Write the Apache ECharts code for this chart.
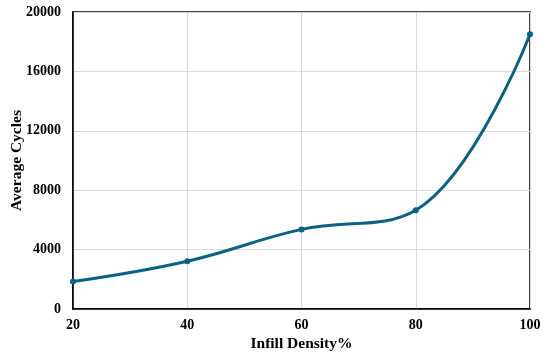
<!DOCTYPE html>
<html><head><meta charset="utf-8">
<script src="https://cdn.jsdelivr.net/npm/echarts@6/dist/echarts.min.js"></script>
<style>html,body{margin:0;padding:0;background:#fff}#c{width:550px;height:358px}</style>
</head><body><div id="c"></div>
<script>
const infillDensity = [20, 40, 60, 80, 100];
const averageCycles = [1850, 3220, 5360, 6650, 18500];
const yTicks = [0, 4000, 8000, 12000, 16000, 20000];

const chart = echarts.init(document.getElementById('c'), null, {renderer: 'canvas'});
const font = {fontFamily: 'Liberation Serif', fontWeight: 'bold', color: '#000', fontSize: 14};
chart.setOption({
  animation: false,
  grid: {left: 73, top: 12, right: 20, bottom: 49, show: true, borderColor: '#000', borderWidth: 1.5,
         containLabel: false, outerBoundsMode: 'none'},
  xAxis: {
    type: 'value', min: 20, max: 100, interval: 20,
    name: 'Infill Density%', nameLocation: 'middle', nameGap: 27, nameMoveOverlap: false,
    nameTextStyle: Object.assign({}, font, {fontSize: 15.5}),
    axisLine: {show: true, lineStyle: {color: '#000', width: 1.5}},
    axisTick: {show: false},
    axisLabel: Object.assign({margin: 9, formatter: v => String(v)}, font),
    splitLine: {show: true, lineStyle: {color: '#d9d9d9', width: 1}}
  },
  yAxis: {
    type: 'value', min: yTicks[0], max: yTicks[yTicks.length-1], interval: 4000,
    name: 'Average Cycles', nameLocation: 'middle', nameGap: 48, nameMoveOverlap: false,
    nameTextStyle: Object.assign({}, font, {fontSize: 15.5}),
    axisLine: {show: true, lineStyle: {color: '#000', width: 1.5}},
    axisTick: {show: false},
    axisLabel: Object.assign({margin: 12, formatter: v => String(v)}, font),
    splitLine: {show: true, lineStyle: {color: '#d9d9d9', width: 1}}
  },
  series: [{
    type: 'line', smooth: 0.4,
    data: infillDensity.map((x, i) => [x, averageCycles[i]]),
    symbol: 'circle', symbolSize: 6,
    lineStyle: {color: '#0b6184', width: 3},
    itemStyle: {color: '#0b6184'}
  }]
});
</script></body></html>
